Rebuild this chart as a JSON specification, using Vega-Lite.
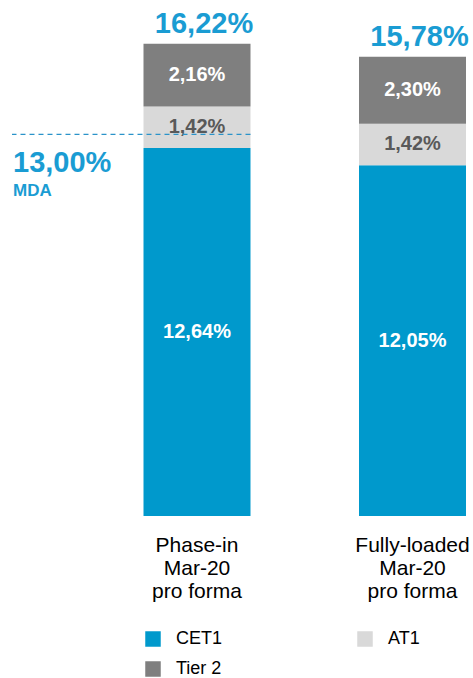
{
  "$schema": "https://vega.github.io/schema/vega-lite/v6.json",
  "autosize": {"type": "none"},
  "width": 454,
  "height": 495,
  "padding": {"left": 12, "top": 21, "right": 7, "bottom": 162},
  "background": "white",
  "config": {
    "view": {"stroke": null},
    "font": "Liberation Sans"
  },
  "datasets": {
    "segs": [
      {"cat": "Phase-in|Mar-20|pro forma", "seg": "CET1", "ord": 1, "value": 12.64, "label": "12,64%"},
      {"cat": "Phase-in|Mar-20|pro forma", "seg": "AT1", "ord": 2, "value": 1.42, "label": "1,42%"},
      {"cat": "Phase-in|Mar-20|pro forma", "seg": "Tier 2", "ord": 3, "value": 2.16, "label": "2,16%"},
      {"cat": "Fully-loaded|Mar-20|pro forma", "seg": "CET1", "ord": 1, "value": 12.05, "label": "12,05%"},
      {"cat": "Fully-loaded|Mar-20|pro forma", "seg": "AT1", "ord": 2, "value": 1.42, "label": "1,42%"},
      {"cat": "Fully-loaded|Mar-20|pro forma", "seg": "Tier 2", "ord": 3, "value": 2.30, "label": "2,30%"}
    ],
    "totals": [
      {"cat": "Phase-in|Mar-20|pro forma", "total": 16.22, "label": "16,22%"},
      {"cat": "Fully-loaded|Mar-20|pro forma", "total": 15.78, "label": "15,78%"}
    ],
    "mda": [
      {"cat": "Phase-in|Mar-20|pro forma", "mda": 13.0, "label": "13,00%", "sub": "MDA"}
    ]
  },
  "layer": [
    {
      "data": {"name": "segs"},
      "transform": [
        {"stack": "value", "groupby": ["cat"], "sort": [{"field": "ord"}], "as": ["y0", "y1"]}
      ],
      "mark": {"type": "bar"},
      "encoding": {
        "x": {
          "field": "cat", "type": "nominal", "sort": null,
          "scale": {"domain": ["Phase-in|Mar-20|pro forma", "Fully-loaded|Mar-20|pro forma"], "paddingInner": 0.5035, "paddingOuter": 0.3051, "align": 1},
          "axis": {
            "title": null, "domain": false, "ticks": false, "tickSize": 0, "labelAngle": 0,
            "labelExpr": "split(datum.label, '|')",
            "labelFontSize": 21, "labelColor": "#000000", "labelPadding": 18,
            "labelLineHeight": 23, "labelFont": "Liberation Sans", "labelLimit": 0
          }
        },
        "y": {"field": "y0", "type": "quantitative", "scale": {"domain": [0, 17], "nice": false}, "axis": null},
        "y2": {"field": "y1"},
        "color": {
          "field": "seg", "type": "nominal",
          "scale": {"domain": ["CET1", "AT1", "Tier 2"], "range": ["#0099cc", "#d9d9d9", "#7f7f7f"]},
          "legend": {
            "title": null, "orient": "none", "legendX": 132, "legendY": 609,
            "direction": "horizontal", "columns": 2, "columnPadding": 133, "rowPadding": 12,
            "symbolType": "square", "symbolSize": 240, "symbolStrokeWidth": 0,
            "labelFontSize": 18, "labelColor": "#000000", "labelFont": "Liberation Sans",
            "labelOffset": 14, "padding": 0,
            "encode": {"symbols": {"update": {"fill": {"signal": "datum.value === 'AT1' ? '#bfbfbf' : scale('color', datum.value)"}}}}
          }
        }
      }
    },
    {
      "data": {"name": "segs"},
      "transform": [
        {"stack": "value", "groupby": ["cat"], "sort": [{"field": "ord"}], "as": ["y0", "y1"]},
        {"fold": ["y0", "y1"], "as": ["edgeName", "edge"]},
        {"aggregate": [{"op": "mean", "field": "edge", "as": "mid"}], "groupby": ["cat", "seg", "label"]}
      ],
      "mark": {"type": "text", "fontSize": 20, "fontWeight": "bold", "baseline": "middle", "align": "center"},
      "encoding": {
        "x": {"field": "cat", "type": "nominal", "sort": null},
        "y": {"field": "mid", "type": "quantitative"},
        "text": {"field": "label"},
        "color": {"condition": {"test": "datum.seg === 'AT1'", "value": "#595959"}, "value": "#ffffff"}
      }
    },
    {
      "data": {"name": "mda"},
      "layer": [
        {
          "mark": {"type": "rule", "color": "#2a93c9", "strokeWidth": 1.3, "strokeDash": [5, 4], "yOffset": -3},
          "encoding": {
            "x": {"field": "cat", "type": "nominal", "bandPosition": 1},
            "x2": {"value": 0},
            "y": {"field": "mda", "type": "quantitative"}
          }
        },
        {
          "mark": {"type": "text", "fontSize": 29, "fontWeight": "bold", "align": "left", "baseline": "alphabetic", "dx": 1, "dy": 35, "color": "#1a9cd3"},
          "encoding": {
            "x": {"value": 0},
            "y": {"field": "mda", "type": "quantitative"},
            "text": {"field": "label"}
          }
        },
        {
          "mark": {"type": "text", "fontSize": 17, "fontWeight": "bold", "align": "left", "baseline": "alphabetic", "dx": 1, "dy": 59, "color": "#1a9cd3"},
          "encoding": {
            "x": {"value": 0},
            "y": {"field": "mda", "type": "quantitative"},
            "text": {"field": "sub"}
          }
        }
      ]
    },
    {
      "data": {"name": "totals"},
      "mark": {"type": "text", "fontSize": 29, "fontWeight": "bold", "align": "center", "baseline": "alphabetic", "dy": -11, "dx": 7, "color": "#1a9cd3"},
      "encoding": {
        "x": {"field": "cat", "type": "nominal", "sort": null},
        "y": {"field": "total", "type": "quantitative"},
        "text": {"field": "label"}
      }
    }
  ]
}
